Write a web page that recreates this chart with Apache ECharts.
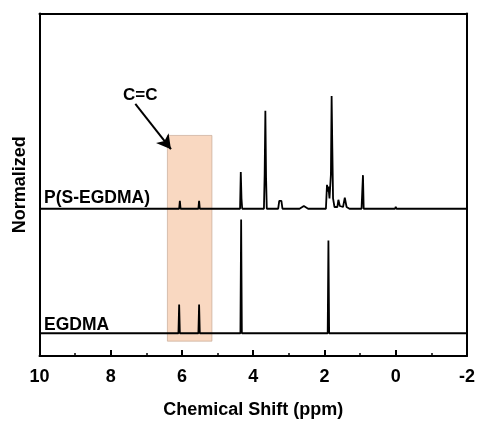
<!DOCTYPE html>
<html>
	<head>
		<meta charset="UTF-8" />
		<script src="https://cdn.jsdelivr.net/npm/echarts@6/dist/echarts.min.js"></script>
		<title>NMR</title>
		<style>
			body {
				margin: 0;
				background-color: #fff;
			}
			#main {
				width: 478px;
				height: 424px;
			}
		</style>
	</head>
	<body>
		<div id="main"></div>
	</body>
</html>

<script>
	// spectra, [ppm, normalized intensity]
	var egdma = [
		[10, 0], [7.28, 0], [7.26, 0.3], [7.24, 0],
		[6.10, 0], [6.08, 8.4], [6.06, 0],
		[5.54, 0], [5.52, 8.4], [5.50, 0],
		[4.36, 0], [4.34, 33.2], [4.32, 0],
		[3.82, 0], [3.80, 0.2], [3.78, 0],
		[1.91, 0], [1.89, 27.1], [1.87, 0],
		[0.02, 0], [0.0, 0.2], [-0.02, 0], [-2, 0]
	]
	var pegdma = [
		[10, 0], [7.28, 0], [7.26, 0.3], [7.24, 0],
		[6.08, 0], [6.06, 2.3], [6.04, 0],
		[5.54, 0], [5.52, 2.3], [5.50, 0],
		[4.37, 0], [4.35, 10.7], [4.33, 3], [4.31, 0],
		[4.14, 0], [4.09, 0.4], [4.04, 0],
		[3.70, 0], [3.68, 10], [3.66, 28.6], [3.64, 9], [3.62, 0],
		[3.30, 0], [3.27, 2.3], [3.21, 2.3], [3.18, 0],
		[2.70, 0], [2.58, 0.8], [2.46, 0],
		[1.96, 0], [1.93, 7], [1.91, 5], [1.89, 6.5], [1.86, 3],
		[1.82, 10], [1.80, 32.9], [1.78, 17.5], [1.76, 3], [1.72, 0.5],
		[1.64, 0.5], [1.61, 2.6], [1.57, 0.8],
		[1.48, 0.5], [1.43, 3.2], [1.38, 0.5], [1.30, 0],
		[0.96, 0], [0.94, 5], [0.92, 9.8], [0.90, 0],
		[0.02, 0], [0.0, 0.6], [-0.02, 0], [-2, 0]
	]
	var spectrumNames = ['EGDMA', 'P(S-EGDMA)']
	var xTicks = [10, 8, 6, 4, 2, 0, -2]
	var highlight = [6.41, 5.16] // C=C region, ppm
	var annotation = 'C=C'

	var offsets = [6.64, 43.0]
	var spectra = [egdma, pegdma]

	var myChart = echarts.init(document.getElementById('main'))

	var font = 'Liberation Sans, Arial, sans-serif'

	var series = spectra.map(function (s, i) {
		return {
			name: spectrumNames[i],
			type: 'line',
			symbol: 'none',
			silent: true,
			animation: false,
			lineStyle: { color: '#000', width: 1.8 },
			data: s.map(function (p) {
				return [p[0], p[1] + offsets[i]]
			}),
			z: 2,
		}
	})

	// shaded C=C region, arrow and its label
	series.push({
		type: 'line',
		data: [],
		z: 5,
		animation: false,
		markArea: {
			silent: true,
			itemStyle: {
				color: 'rgba(244,177,131,0.5)',
				borderColor: 'rgba(190,160,140,0.6)',
				borderWidth: 1,
			},
			data: [[{ xAxis: highlight[0], yAxis: 64.4 }, { xAxis: highlight[1], yAxis: 4.33 }]],
		},
		markLine: {
			silent: true,
			symbol: ['none', 'arrow'],
			symbolSize: [12, 14],
			lineStyle: { color: '#000', width: 2, type: 'solid' },
			label: { show: false },
			data: [[{ coord: [7.31, 73.6] }, { coord: [6.31, 60.4] }]],
		},
		markPoint: {
			silent: true,
			symbol: 'circle',
			symbolSize: 0,
			label: {
				show: true,
				formatter: annotation,
				color: '#000',
				fontFamily: font,
				fontWeight: 'bold',
				fontSize: 17,
			},
			data: [{ coord: [7.17, 76.0] }],
		},
	})

	var option = {
		animation: false,
		grid: { left: 39.5, right: 8, top: 13.5, bottom: 64 },
		xAxis: [
			{
				type: 'value',
				inverse: true,
				min: -2,
				max: 10,
				interval: 2,
				name: 'Chemical Shift (ppm)',
				nameLocation: 'middle',
				nameGap: 45,
				nameTextStyle: { color: '#000', fontFamily: font, fontWeight: 'bold', fontSize: 18 },
				axisLine: { lineStyle: { color: '#000', width: 2 } },
				axisTick: { inside: true, length: 6, lineStyle: { color: '#000', width: 2 } },
				minorTick: { show: true, splitNumber: 2, length: 3, lineStyle: { color: '#000', width: 1.5 } },
				axisLabel: {
					margin: 12,
					color: '#000',
					fontFamily: font,
					fontWeight: 'bold',
					fontSize: 18,
					formatter: function (v) {
						return xTicks.indexOf(v) >= 0 ? String(v) : ''
					},
				},
				splitLine: { show: false },
			},
			{
				type: 'value',
				position: 'top',
				inverse: true,
				min: -2,
				max: 10,
				axisLine: { onZero: false, lineStyle: { color: '#000', width: 2 } },
				axisTick: { show: false },
				axisLabel: { show: false },
				splitLine: { show: false },
			},
		],
		yAxis: [
			{
				type: 'value',
				min: 0,
				max: 100,
				name: 'Normalized',
				nameLocation: 'middle',
				nameGap: 10,
				nameTextStyle: { color: '#000', fontFamily: font, fontWeight: 'bold', fontSize: 18 },
				axisLine: { show: true, onZero: false, lineStyle: { color: '#000', width: 2 } },
				axisTick: { show: false },
				axisLabel: { show: false },
				splitLine: { show: false },
			},
			{
				type: 'value',
				position: 'right',
				min: 0,
				max: 100,
				axisLine: { show: true, onZero: false, lineStyle: { color: '#000', width: 2 } },
				axisTick: { show: false },
				axisLabel: { show: false },
				splitLine: { show: false },
			},
		],
		graphic: [
			{
				type: 'text',
				left: 44,
				top: 189,
				style: { text: spectrumNames[1], fill: '#000', font: 'bold 17.5px ' + font },
			},
			{
				type: 'text',
				left: 44,
				top: 316,
				style: { text: spectrumNames[0], fill: '#000', font: 'bold 17.5px ' + font },
			},
		],
		series: series,
	}

	myChart.setOption(option)
</script>
